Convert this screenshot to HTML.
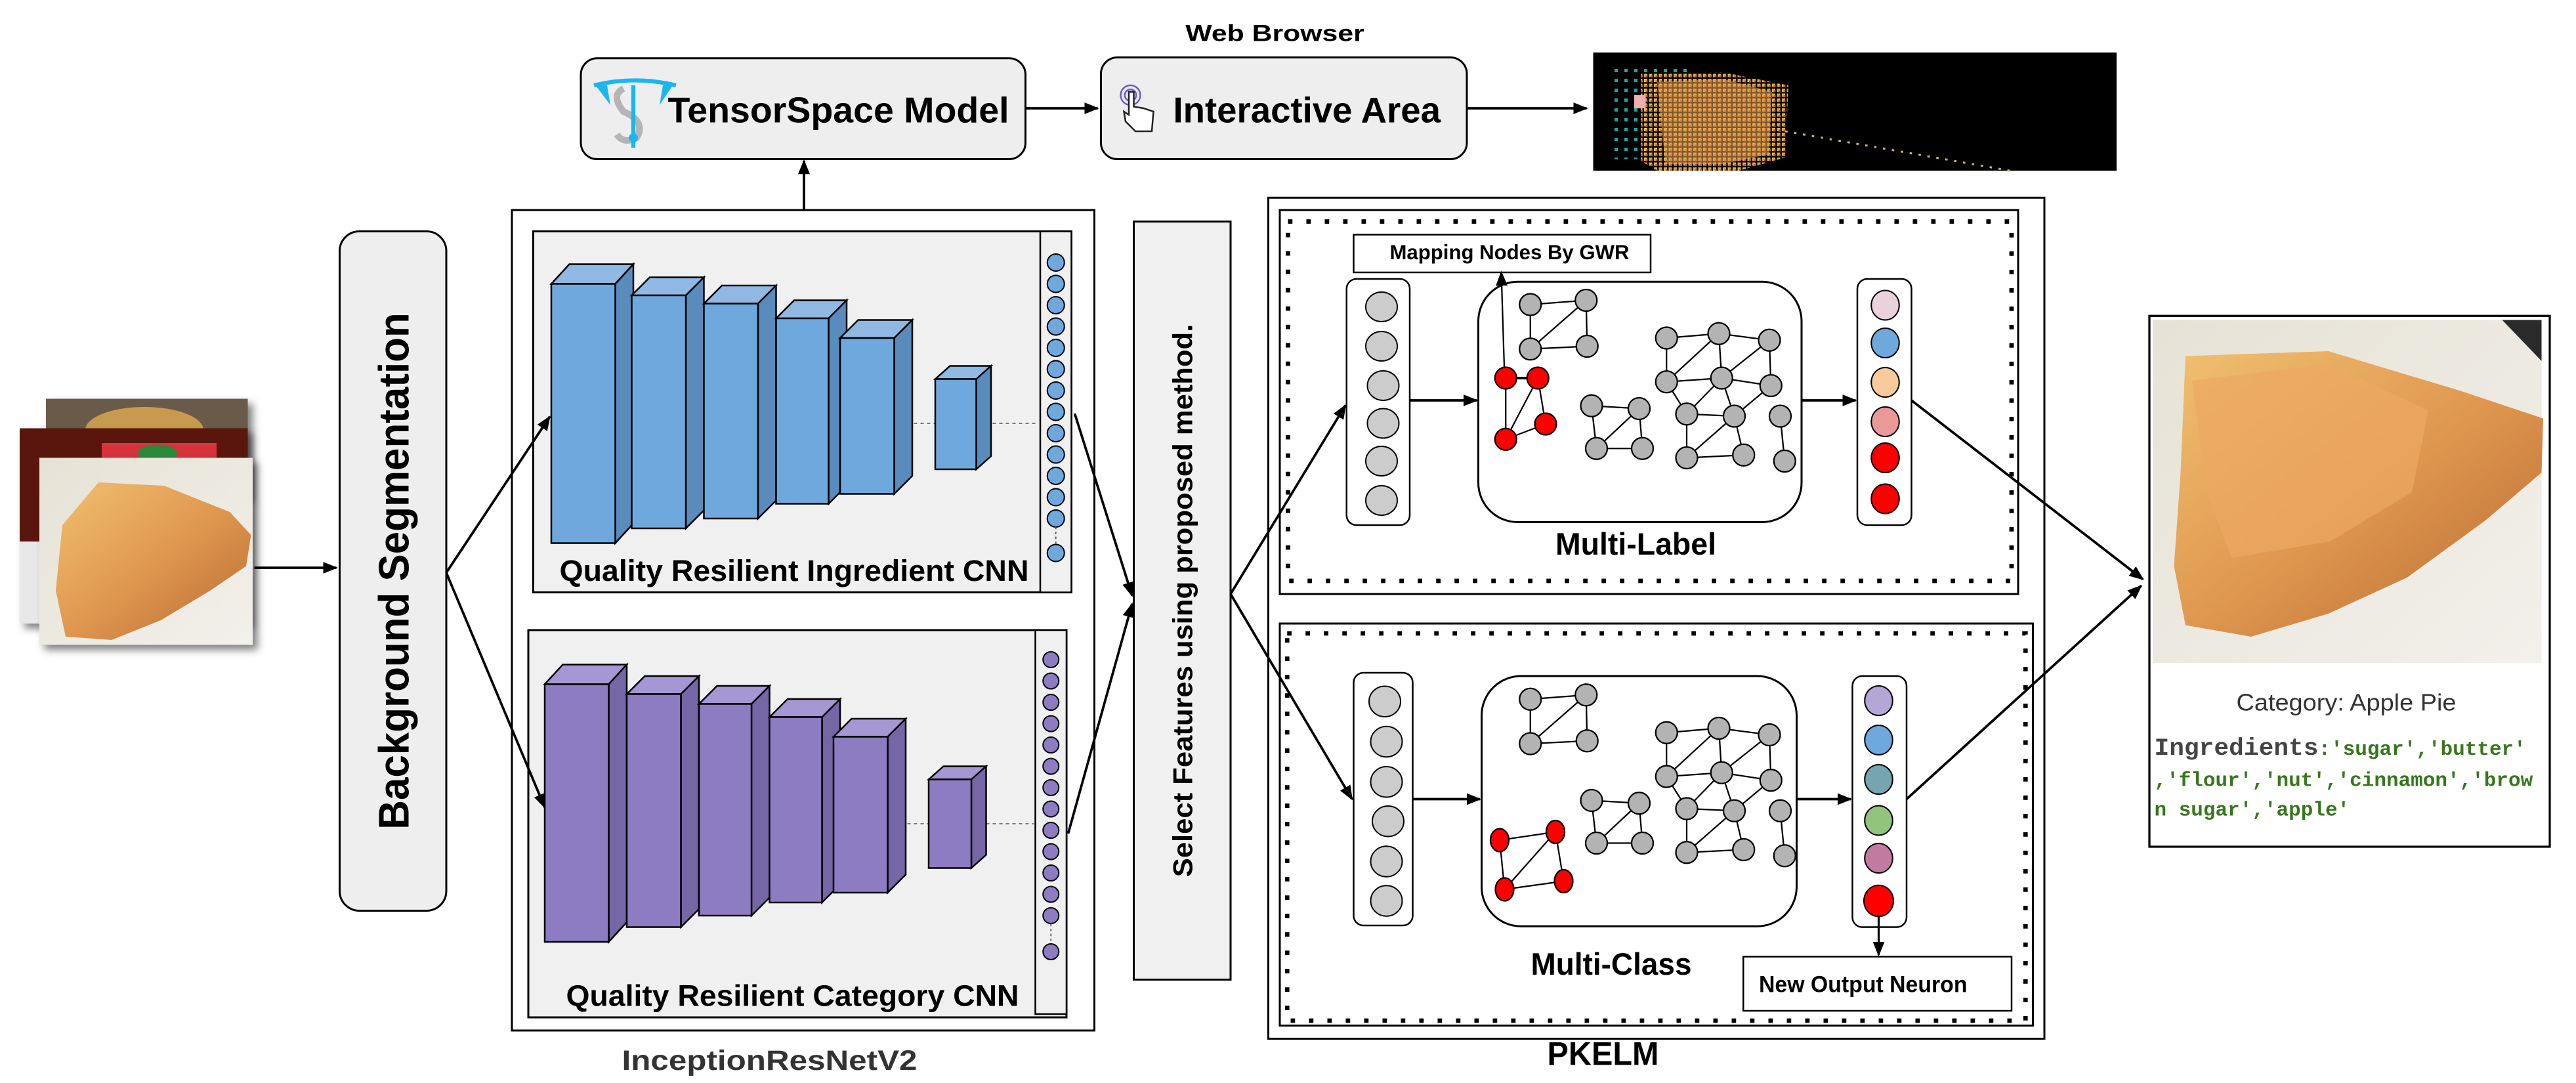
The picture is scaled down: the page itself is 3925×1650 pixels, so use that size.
<!DOCTYPE html>
<html><head><meta charset="utf-8"><style>
html,body{margin:0;padding:0;background:#fff;}
svg{display:block;}
.s{font-family:"Liberation Sans",Arial,sans-serif;}
.m{font-family:"Liberation Mono","DejaVu Sans Mono",monospace;}
</style></head><body>
<svg width="3925" height="1650" viewBox="0 0 1570 660" xmlns="http://www.w3.org/2000/svg" class="s">
<defs>
<marker id="ah" viewBox="0 0 10 10" refX="9" refY="5" markerWidth="9" markerHeight="9" markerUnits="userSpaceOnUse" orient="auto"><path d="M0,1 L10,5 L0,9 z" fill="#000"/></marker>
<filter id="sh" x="-20%" y="-20%" width="150%" height="150%"><feDropShadow dx="3" dy="3" stdDeviation="2.5" flood-color="#000" flood-opacity="0.5"/></filter>
<linearGradient id="pieG" x1="0" y1="0" x2="1" y2="1"><stop offset="0" stop-color="#f0c070"/><stop offset="0.5" stop-color="#e09850"/><stop offset="1" stop-color="#b86a30"/></linearGradient>
<linearGradient id="bgG" x1="0" y1="0" x2="1" y2="1"><stop offset="0" stop-color="#e6e2d6"/><stop offset="1" stop-color="#f2f0ea"/></linearGradient>
<pattern id="dotsY" width="3" height="3" patternUnits="userSpaceOnUse"><rect width="2" height="2" fill="#e8c84a"/><rect x="1" y="1" width="1.2" height="1.2" fill="#e8505a"/></pattern>
<pattern id="dotsC" width="6" height="6" patternUnits="userSpaceOnUse"><rect width="2" height="2" fill="#1aa7a0"/></pattern>
</defs>

<!-- Top row -->
<text x="777" y="25" font-size="14" font-weight="bold" text-anchor="middle" textLength="109" lengthAdjust="spacingAndGlyphs">Web Browser</text>
<rect x="354" y="35.5" width="271" height="61.5" rx="10" fill="#eeeeee" stroke="#000" stroke-width="1.2"/>
<g>
<path d="M363,52 L372,64 L370,52 Z M410,52 L402,64 L404,52 Z" fill="#1ab6f0"/>
<path d="M362,52 Q387,46 412,52" stroke="#1ab6f0" stroke-width="2.5" fill="none"/>
<path d="M380,54 Q372,58 380,68 Q394,74 388,84 Q380,88 376,82" stroke="#b5b5b5" stroke-width="4" fill="none"/>
<line x1="386" y1="52" x2="386" y2="90" stroke="#1ab6f0" stroke-width="2.5"/>
<circle cx="386" cy="84" r="2" fill="none" stroke="#1ab6f0" stroke-width="1.5"/>
</g>
<text x="407" y="74.5" font-size="22" font-weight="bold" textLength="208" lengthAdjust="spacingAndGlyphs">TensorSpace Model</text>
<line x1="625" y1="66" x2="669" y2="66" stroke="#000" stroke-width="1.5" marker-end="url(#ah)"/>
<rect x="671" y="35" width="223" height="62" rx="10" fill="#eeeeee" stroke="#000" stroke-width="1.2"/>
<g stroke="#6a5acd" fill="none" stroke-width="1"><circle cx="689" cy="58" r="6"/><circle cx="689" cy="58" r="3.5"/></g>
<path d="M688,56 L688,70 L685,68 L686,74 L692,80 L702,80 L703,68 L697,66 L691,65 L691,56 Z" fill="#fff" stroke="#222" stroke-width="1"/>
<text x="715" y="74.5" font-size="22" font-weight="bold" textLength="163" lengthAdjust="spacingAndGlyphs">Interactive Area</text>
<line x1="894" y1="66" x2="967" y2="66" stroke="#000" stroke-width="1.5" marker-end="url(#ah)"/>
<rect x="971" y="32" width="319" height="72" fill="#000"/>
<rect x="982" y="42" width="50" height="55" fill="url(#dotsC)"/>
<polygon points="1000,45 1050,44 1090,52 1088,96 1060,104 1010,104 1000,98" fill="url(#dotsY)" opacity="0.9"/>
<polygon points="1010,50 1050,48 1080,56 1078,94 1050,100 1015,100" fill="#e8a050" opacity="0.55"/>
<rect x="996" y="58" width="7" height="8" fill="#f0b0b0"/>
<line x1="1088" y1="80" x2="1225" y2="104" stroke="#c8b860" stroke-width="1.2" stroke-dasharray="1.5 4"/>

<!-- input images -->
<rect x="28" y="243" width="123" height="60" fill="#6a5a48" filter="url(#sh)"/>
<ellipse cx="88" cy="262" rx="36" ry="14" fill="#c89a50"/>
<rect x="12" y="261" width="139" height="119" fill="#5a1410" filter="url(#sh)"/>
<rect x="62" y="270" width="70" height="14" fill="#d8323c"/>
<ellipse cx="96" cy="276" rx="12" ry="5" fill="#2a8a3a"/>
<rect x="12" y="330" width="20" height="50" fill="#e8e8e8"/>
<rect x="24" y="279" width="130" height="114" fill="url(#bgG)" filter="url(#sh)"/>
<polygon points="60,294 100,296 140,312 153,326 150,345 128,360 98,378 68,390 40,388 34,360 38,320" fill="url(#pieG)"/>

<!-- arrows left -->
<line x1="155" y1="346" x2="205" y2="346" stroke="#000" stroke-width="1.5" marker-end="url(#ah)"/>
<rect x="207" y="141" width="65" height="414" rx="12" fill="#eeeeee" stroke="#000" stroke-width="1.2"/>
<text transform="translate(249,348) rotate(-90)" font-size="26" font-weight="bold" text-anchor="middle" textLength="315" lengthAdjust="spacingAndGlyphs">Background Segmentation</text>

<!-- Inception box -->
<rect x="312" y="128" width="355" height="500" fill="#fff" stroke="#000" stroke-width="1.2"/>
<line x1="490" y1="128" x2="490" y2="98" stroke="#000" stroke-width="1.5" marker-end="url(#ah)"/>
<text x="469" y="652" font-size="17" font-weight="bold" fill="#333" text-anchor="middle" textLength="180" lengthAdjust="spacingAndGlyphs">InceptionResNetV2</text>

<!-- Ingredient CNN -->
<rect x="325" y="141" width="328" height="220" fill="#f0f0f0" stroke="#000" stroke-width="1.2"/>
<rect x="634" y="141" width="19" height="220" fill="#f0f0f0" stroke="#000" stroke-width="1"/>
<g stroke="#000" stroke-width="1">
<line x1="545" y1="258" x2="632" y2="258" stroke="#666" stroke-width="0.7" stroke-dasharray="2 2"/>
<polygon points="336,173 347,161 386,161 375,173" fill="#8fb8e3"/><polygon points="375,173 386,161 386,319 375,331" fill="#5a8bbd"/><rect x="336" y="173" width="39" height="158" fill="#6fa8dc"/>
<polygon points="385,180 396,169 429,169 418,180" fill="#8fb8e3"/><polygon points="418,180 429,169 429,311 418,322" fill="#5a8bbd"/><rect x="385" y="180" width="33" height="142" fill="#6fa8dc"/>
<polygon points="429,185 440,174 473,174 462,185" fill="#8fb8e3"/><polygon points="462,185 473,174 473,305 462,316" fill="#5a8bbd"/><rect x="429" y="185" width="33" height="131" fill="#6fa8dc"/>
<polygon points="473,194 484,183 516,183 505,194" fill="#8fb8e3"/><polygon points="505,194 516,183 516,296 505,307" fill="#5a8bbd"/><rect x="473" y="194" width="32" height="113" fill="#6fa8dc"/>
<polygon points="512,206 523,195 556,195 545,206" fill="#8fb8e3"/><polygon points="545,206 556,195 556,290 545,301" fill="#5a8bbd"/><rect x="512" y="206" width="33" height="95" fill="#6fa8dc"/>
<polygon points="570,231 579,223 604,223 595,231" fill="#8fb8e3"/><polygon points="595,231 604,223 604,278 595,286" fill="#5a8bbd"/><rect x="570" y="231" width="25" height="55" fill="#6fa8dc"/>
</g>
<g fill="#6fa8dc" stroke="#000" stroke-width="0.8">
<circle cx="643.5" cy="160" r="5.2"/><circle cx="643.5" cy="173" r="5.2"/><circle cx="643.5" cy="186" r="5.2"/><circle cx="643.5" cy="199" r="5.2"/><circle cx="643.5" cy="212" r="5.2"/><circle cx="643.5" cy="225" r="5.2"/><circle cx="643.5" cy="238" r="5.2"/><circle cx="643.5" cy="251" r="5.2"/><circle cx="643.5" cy="264" r="5.2"/><circle cx="643.5" cy="277" r="5.2"/><circle cx="643.5" cy="290" r="5.2"/><circle cx="643.5" cy="303" r="5.2"/><circle cx="643.5" cy="316" r="5.2"/><circle cx="643.5" cy="337" r="5.2"/>
</g>
<line x1="643.5" y1="321" x2="643.5" y2="332" stroke="#555" stroke-width="0.7" stroke-dasharray="1.5 1.5"/>
<text x="341" y="354" font-size="18" font-weight="bold" textLength="286" lengthAdjust="spacingAndGlyphs">Quality Resilient Ingredient CNN</text>

<!-- Category CNN -->
<rect x="322" y="384" width="328" height="236" fill="#f0f0f0" stroke="#000" stroke-width="1.2"/>
<rect x="631" y="384" width="19" height="234" fill="#f0f0f0" stroke="#000" stroke-width="1"/>
<g stroke="#000" stroke-width="1">
<line x1="541" y1="502" x2="630" y2="502" stroke="#666" stroke-width="0.7" stroke-dasharray="2 2"/>
<polygon points="332,417 343,405 382,405 371,417" fill="#a597d3"/><polygon points="371,417 382,405 382,562 371,574" fill="#7566a5"/><rect x="332" y="417" width="39" height="157" fill="#8e7cc3"/>
<polygon points="382,423 393,412 426,412 415,423" fill="#a597d3"/><polygon points="415,423 426,412 426,554 415,565" fill="#7566a5"/><rect x="382" y="423" width="33" height="142" fill="#8e7cc3"/>
<polygon points="426,429 437,418 469,418 458,429" fill="#a597d3"/><polygon points="458,429 469,418 469,547 458,558" fill="#7566a5"/><rect x="426" y="429" width="32" height="129" fill="#8e7cc3"/>
<polygon points="469,437 480,426 512,426 501,437" fill="#a597d3"/><polygon points="501,437 512,426 512,539 501,550" fill="#7566a5"/><rect x="469" y="437" width="32" height="113" fill="#8e7cc3"/>
<polygon points="508,449 519,438 552,438 541,449" fill="#a597d3"/><polygon points="541,449 552,438 552,533 541,544" fill="#7566a5"/><rect x="508" y="449" width="33" height="95" fill="#8e7cc3"/>
<polygon points="566,475 575,467 601,467 592,475" fill="#a597d3"/><polygon points="592,475 601,467 601,521 592,529" fill="#7566a5"/><rect x="566" y="475" width="26" height="54" fill="#8e7cc3"/>
</g>
<g fill="#8e7cc3" stroke="#000" stroke-width="0.8">
<circle cx="640.5" cy="402" r="4.8"/><circle cx="640.5" cy="415" r="4.8"/><circle cx="640.5" cy="428" r="4.8"/><circle cx="640.5" cy="441" r="4.8"/><circle cx="640.5" cy="454" r="4.8"/><circle cx="640.5" cy="467" r="4.8"/><circle cx="640.5" cy="480" r="4.8"/><circle cx="640.5" cy="493" r="4.8"/><circle cx="640.5" cy="506" r="4.8"/><circle cx="640.5" cy="519" r="4.8"/><circle cx="640.5" cy="532" r="4.8"/><circle cx="640.5" cy="545" r="4.8"/><circle cx="640.5" cy="558" r="4.8"/><circle cx="640.5" cy="580" r="4.8"/>
</g>
<line x1="640.5" y1="563" x2="640.5" y2="575" stroke="#555" stroke-width="0.7" stroke-dasharray="1.5 1.5"/>
<text x="345" y="613" font-size="18" font-weight="bold" textLength="276" lengthAdjust="spacingAndGlyphs">Quality Resilient Category CNN</text>

<!-- seg to CNN arrows (on top) -->
<line x1="272" y1="349" x2="335" y2="254" stroke="#000" stroke-width="1.5" marker-end="url(#ah)"/>
<line x1="272" y1="349" x2="332" y2="492" stroke="#000" stroke-width="1.5" marker-end="url(#ah)"/>

<!-- to select -->
<line x1="655" y1="252" x2="690" y2="363" stroke="#000" stroke-width="1.5" marker-end="url(#ah)"/>
<line x1="651" y1="508" x2="690" y2="368" stroke="#000" stroke-width="1.5" marker-end="url(#ah)"/>
<rect x="691" y="135" width="59" height="462" fill="#f0f0f0" stroke="#000" stroke-width="1.2"/>
<text transform="translate(726.5,366) rotate(-90)" font-size="16.5" font-weight="bold" text-anchor="middle" textLength="337" lengthAdjust="spacingAndGlyphs">Select Features using proposed method.</text>
<line x1="750" y1="362" x2="820" y2="247" stroke="#000" stroke-width="1.5" marker-end="url(#ah)"/>
<line x1="750" y1="362" x2="824" y2="487" stroke="#000" stroke-width="1.5" marker-end="url(#ah)"/>

<!-- PKELM -->
<rect x="773" y="120.5" width="473" height="512.5" fill="none" stroke="#000" stroke-width="1.2"/>
<text x="977" y="649" font-size="20" font-weight="bold" text-anchor="middle" textLength="68" lengthAdjust="spacingAndGlyphs">PKELM</text>
<rect x="780" y="128" width="450" height="234" fill="none" stroke="#000" stroke-width="1.2"/>
<rect x="785" y="135" width="441" height="219" fill="none" stroke="#000" stroke-width="2.7" stroke-dasharray="2.7 8.5"/>
<rect x="780" y="380" width="459" height="245" fill="none" stroke="#000" stroke-width="1.2"/>
<rect x="784.5" y="386" width="450" height="236" fill="none" stroke="#000" stroke-width="2.7" stroke-dasharray="2.7 8.5"/>

<!-- Multi-Label -->
<rect x="825" y="143" width="181" height="23" fill="#fff" stroke="#000" stroke-width="1"/>
<text x="847" y="158" font-size="12.5" font-weight="bold" textLength="146" lengthAdjust="spacingAndGlyphs">Mapping Nodes By GWR</text>
<rect x="820.7" y="170" width="38.5" height="150" rx="6" fill="#fff" stroke="#000" stroke-width="1"/>
<g fill="#cccccc" stroke="#000" stroke-width="0.8">
<ellipse cx="842" cy="187" rx="9.6" ry="9"/><ellipse cx="842" cy="211" rx="9.6" ry="9"/><ellipse cx="843" cy="235" rx="9.6" ry="9"/><ellipse cx="843" cy="258" rx="9.6" ry="9"/><ellipse cx="842" cy="281" rx="9.6" ry="9"/><ellipse cx="842" cy="305" rx="9.6" ry="9"/>
</g>
<line x1="859" y1="244" x2="900" y2="244" stroke="#000" stroke-width="1.5" marker-end="url(#ah)"/>
<rect x="901" y="171.7" width="197" height="146.5" rx="24" fill="#fff" stroke="#000" stroke-width="1.2"/>
<line x1="1098" y1="244" x2="1131" y2="244" stroke="#000" stroke-width="1.5" marker-end="url(#ah)"/>
<rect x="1132" y="170" width="33" height="150" rx="6" fill="#fff" stroke="#000" stroke-width="1"/>
<g stroke="#000" stroke-width="0.8">
<ellipse cx="1149" cy="186" rx="8.5" ry="9" fill="#ead1dc"/><ellipse cx="1149" cy="209" rx="8.5" ry="9" fill="#6fa8dc"/><ellipse cx="1149" cy="233" rx="8.5" ry="9" fill="#f9cb9c"/><ellipse cx="1149" cy="257" rx="8.5" ry="9" fill="#ea9999"/><ellipse cx="1149" cy="279" rx="8.5" ry="9" fill="#ff0000"/><ellipse cx="1149" cy="304" rx="8.5" ry="9" fill="#ff0000"/>
</g>
<text x="997" y="338" font-size="19" font-weight="bold" text-anchor="middle" textLength="98" lengthAdjust="spacingAndGlyphs">Multi-Label</text>

<g id="gray">
<g stroke="#000" stroke-width="0.9">
<line x1="932.7" y1="185.6" x2="966.7" y2="183"/><line x1="932.7" y1="185.6" x2="932.7" y2="212.7"/><line x1="932.7" y1="212.7" x2="967.3" y2="211"/><line x1="966.7" y1="183" x2="967.3" y2="211"/><line x1="932.7" y1="212.7" x2="966.7" y2="183"/>
<line x1="970" y1="247.3" x2="999" y2="249"/><line x1="970" y1="247.3" x2="973" y2="273.3"/><line x1="999" y1="249" x2="1001" y2="273.3"/><line x1="973" y1="273.3" x2="1001" y2="273.3"/><line x1="999" y1="249" x2="973" y2="273.3"/>
<line x1="1015.7" y1="206" x2="1047.6" y2="203.3"/><line x1="1047.6" y1="203.3" x2="1078.4" y2="207.3"/><line x1="1015.7" y1="206" x2="1015.7" y2="232.7"/><line x1="1015.7" y1="232.7" x2="1047.6" y2="203.3"/><line x1="1047.6" y1="203.3" x2="1049.3" y2="230.4"/><line x1="1078.4" y1="207.3" x2="1049.3" y2="230.4"/><line x1="1078.4" y1="207.3" x2="1079.3" y2="235"/><line x1="1015.7" y1="232.7" x2="1049.3" y2="230.4"/><line x1="1049.3" y1="230.4" x2="1079.3" y2="235"/><line x1="1015.7" y1="232.7" x2="1028" y2="252.3"/><line x1="1028" y1="252.3" x2="1049.3" y2="230.4"/><line x1="1049.3" y1="230.4" x2="1057" y2="253.6"/><line x1="1028" y1="252.3" x2="1057" y2="253.6"/><line x1="1057" y1="253.6" x2="1079.3" y2="235"/><line x1="1028" y1="252.3" x2="1028" y2="279"/><line x1="1028" y1="279" x2="1057" y2="253.6"/><line x1="1057" y1="253.6" x2="1062.7" y2="277.3"/><line x1="1028" y1="279" x2="1062.7" y2="277.3"/><line x1="1085" y1="253.6" x2="1087.7" y2="281"/>
</g>
<g fill="#b3b3b3" stroke="#000" stroke-width="0.9">
<circle cx="932.7" cy="185.6" r="6.6"/><circle cx="966.7" cy="183" r="6.6"/><circle cx="932.7" cy="212.7" r="6.6"/><circle cx="967.3" cy="211" r="6.6"/>
<circle cx="970" cy="247.3" r="6.6"/><circle cx="999" cy="249" r="6.6"/><circle cx="973" cy="273.3" r="6.6"/><circle cx="1001" cy="273.3" r="6.6"/>
<circle cx="1015.7" cy="206" r="6.6"/><circle cx="1047.6" cy="203.3" r="6.6"/><circle cx="1078.4" cy="207.3" r="6.6"/><circle cx="1015.7" cy="232.7" r="6.6"/><circle cx="1049.3" cy="230.4" r="6.6"/><circle cx="1079.3" cy="235" r="6.6"/><circle cx="1028" cy="252.3" r="6.6"/><circle cx="1057" cy="253.6" r="6.6"/><circle cx="1085" cy="253.6" r="6.6"/><circle cx="1028" cy="279" r="6.6"/><circle cx="1062.7" cy="277.3" r="6.6"/><circle cx="1087.7" cy="281" r="6.6"/>
</g>
</g>
<line x1="917" y1="230" x2="915" y2="166" stroke="#000" stroke-width="0.9" marker-end="url(#ah)"/>
<g stroke="#000" stroke-width="0.9">
<line x1="917.7" y1="230.4" x2="937.3" y2="230.4" stroke-width="1.6"/><line x1="917.7" y1="230.4" x2="917.7" y2="267.7"/><line x1="937.3" y1="230.4" x2="917.7" y2="267.7"/><line x1="937.3" y1="230.4" x2="942" y2="258.4"/><line x1="917.7" y1="267.7" x2="942" y2="258.4"/>
</g>
<g fill="#ff0000" stroke="#000" stroke-width="0.9">
<circle cx="917.7" cy="230.4" r="6.6"/><circle cx="937.3" cy="230.4" r="6.6"/><circle cx="917.7" cy="267.7" r="6.6"/><circle cx="942" cy="258.4" r="6.6"/>
</g>

<!-- Multi-Class -->
<rect x="825" y="410" width="36" height="154" rx="6" fill="#fff" stroke="#000" stroke-width="1"/>
<g fill="#cccccc" stroke="#000" stroke-width="0.8">
<ellipse cx="844" cy="427.5" rx="9.6" ry="9.3"/><ellipse cx="845" cy="452" rx="9.6" ry="9.3"/><ellipse cx="845" cy="476.5" rx="9.6" ry="9.3"/><ellipse cx="846" cy="500.5" rx="9.6" ry="9.3"/><ellipse cx="845" cy="525" rx="9.6" ry="9.3"/><ellipse cx="845" cy="549" rx="9.6" ry="9.3"/>
</g>
<line x1="861" y1="487" x2="902" y2="487" stroke="#000" stroke-width="1.5" marker-end="url(#ah)"/>
<rect x="903" y="412" width="192" height="152.5" rx="24" fill="#fff" stroke="#000" stroke-width="1.2"/>
<use href="#gray" transform="translate(0,240.5)"/>
<g stroke="#000" stroke-width="0.9">
<line x1="914" y1="512" x2="948" y2="507"/><line x1="914" y1="512" x2="917" y2="542"/><line x1="948" y1="507" x2="917" y2="542"/><line x1="948" y1="507" x2="953" y2="537"/><line x1="917" y1="542" x2="953" y2="537"/>
</g>
<g fill="#ff0000" stroke="#000" stroke-width="0.9">
<ellipse cx="914" cy="512" rx="5.6" ry="7"/><ellipse cx="948" cy="507" rx="5.6" ry="7"/><ellipse cx="917" cy="542" rx="5.6" ry="7"/><ellipse cx="953" cy="537" rx="5.6" ry="7"/>
</g>
<line x1="1095" y1="487" x2="1128" y2="487" stroke="#000" stroke-width="1.5" marker-end="url(#ah)"/>
<rect x="1129" y="412" width="33" height="153" rx="6" fill="#fff" stroke="#000" stroke-width="1"/>
<g stroke="#000" stroke-width="0.8">
<ellipse cx="1145" cy="427" rx="8.5" ry="9" fill="#b4a7d6"/><ellipse cx="1145" cy="451" rx="8.5" ry="9" fill="#6fa8dc"/><ellipse cx="1145" cy="475" rx="8.5" ry="9" fill="#76a5af"/><ellipse cx="1145" cy="500" rx="8.5" ry="9" fill="#93c47d"/><ellipse cx="1145" cy="523" rx="8.5" ry="9" fill="#c27ba0"/><ellipse cx="1145" cy="549" rx="9" ry="9.5" fill="#ff0000"/>
</g>
<line x1="1145" y1="558" x2="1145" y2="582" stroke="#000" stroke-width="1.3" marker-end="url(#ah)"/>
<rect x="1062.5" y="583" width="163.5" height="33" fill="#fff" stroke="#000" stroke-width="1"/>
<text x="1072" y="604.5" font-size="14" font-weight="bold" textLength="127" lengthAdjust="spacingAndGlyphs">New Output Neuron</text>
<text x="982" y="594" font-size="19" font-weight="bold" text-anchor="middle" textLength="98" lengthAdjust="spacingAndGlyphs">Multi-Class</text>

<!-- to result -->
<line x1="1165" y1="244" x2="1306" y2="353" stroke="#000" stroke-width="1.5" marker-end="url(#ah)"/>
<line x1="1162" y1="487" x2="1305" y2="357" stroke="#000" stroke-width="1.5" marker-end="url(#ah)"/>

<!-- result -->
<rect x="1310" y="192.5" width="244" height="323.5" fill="#fff" stroke="#000" stroke-width="1.3"/>
<rect x="1312" y="195" width="237" height="209" fill="url(#bgG)"/>
<polygon points="1525,195 1549,195 1549,220" fill="#2a2a2a"/>
<polygon points="1332,217 1419,214 1499,238 1550,255 1549,288 1515,317 1467,352 1419,374 1372,388 1332,381 1325,345 1329,288" fill="url(#pieG)"/>
<polygon points="1336,232 1419,222 1480,250 1470,300 1420,330 1360,340 1345,300" fill="#eca862" opacity="0.7"/>
<text x="1430" y="433" font-size="14.5" fill="#333" text-anchor="middle" textLength="134" lengthAdjust="spacingAndGlyphs">Category: Apple Pie</text>
<text y="460" class="m" font-weight="bold"><tspan x="1313" font-size="15" fill="#444" textLength="100" lengthAdjust="spacingAndGlyphs">Ingredients</tspan><tspan font-size="12.4" fill="#38761d">:'sugar','butter'</tspan></text>
<text x="1313" y="479" class="m" font-weight="bold" font-size="12.4" fill="#38761d">,'flour','nut','cinnamon','brow</text>
<text x="1313" y="497" class="m" font-weight="bold" font-size="12.4" fill="#38761d">n sugar','apple'</text>
</svg>
</body></html>
